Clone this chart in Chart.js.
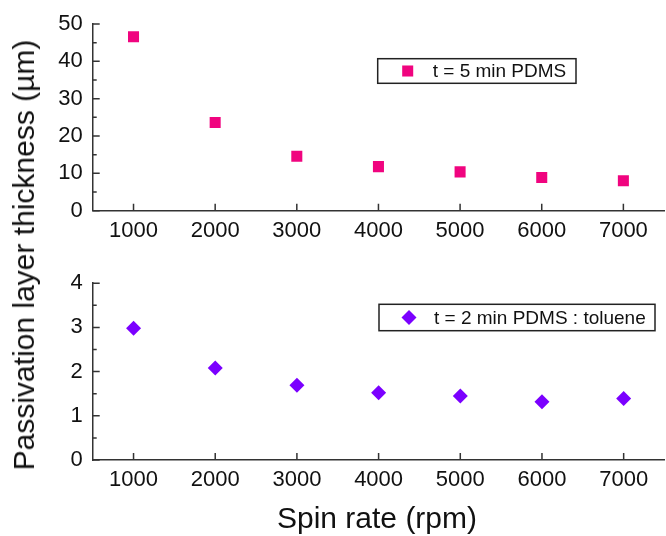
<!DOCTYPE html>
<html>
<head>
<meta charset="utf-8">
<script src="https://cdn.jsdelivr.net/npm/chart.js@4.4.1/dist/chart.umd.min.js"></script>
<style>
  body { margin: 0; width: 666px; height: 536px; overflow: hidden; background: #fff; position: relative; font-family: 'Liberation Sans', Arial, sans-serif; }
  canvas { position: absolute; left: 0; }
  .title { position: absolute; white-space: nowrap; color: #111; font-size: 30px; line-height: 1; }
</style>
</head>
<body>
<canvas id="top" width="672" height="260" style="top:0"></canvas>
<canvas id="bottom" width="672" height="276" style="top:260px"></canvas>
<div class="title" style="left:24px;top:255px;transform:translate(-50%,-50%) rotate(-90deg)">Passivation layer thickness (µm)</div>
<div class="title" style="left:377px;top:518px;transform:translate(-50%,-50%)">Spin rate (rpm)</div>
<script>
const spinRate      = [1000, 2000, 3000, 4000, 5000, 6000, 7000];
const thickness5min = [46.6, 23.6, 14.6, 11.8, 10.4, 8.9, 8.0];
const thickness2min = [2.98, 2.08, 1.69, 1.52, 1.45, 1.32, 1.39];
const xTickValues   = [1000, 2000, 3000, 4000, 5000, 6000, 7000];
const yTicksTop     = [0, 10, 20, 30, 40, 50];
const yTicksBottom  = [0, 1, 2, 3, 4];
const labelTop      = 't = 5 min PDMS';
const labelBottom   = 't = 2 min PDMS : toluene';

const AXIS = '#333';
const FONT = "'Liberation Sans', Arial, sans-serif";

// ticks pointing into the plot, with a minor tick half way on y
const inwardTicks = {
  id: 'inwardTicks',
  afterDraw(chart) {
    const { ctx, chartArea: { left, bottom } } = chart;
    const x = chart.scales.x, y = chart.scales.y;
    ctx.save();
    ctx.strokeStyle = AXIS;
    ctx.lineWidth = 1.5;
    ctx.beginPath();
    x.ticks.forEach(t => {
      const px = x.getPixelForValue(t.value);
      ctx.moveTo(px, bottom); ctx.lineTo(px, bottom - 7);
    });
    y.ticks.forEach((t, i) => {
      const py = y.getPixelForValue(t.value);
      ctx.moveTo(left, py); ctx.lineTo(left + 7, py);
      if (i < y.ticks.length - 1) {
        const pm = y.getPixelForValue((t.value + y.ticks[i + 1].value) / 2);
        ctx.moveTo(left, pm); ctx.lineTo(left + 4, pm);
      }
    });
    ctx.stroke();
    ctx.restore();
  }
};

// boxed legend at a fixed spot
const boxLegend = {
  id: 'boxLegend',
  afterDraw(chart, args, opts) {
    const { ctx } = chart;
    const ds = chart.data.datasets[0];
    const { x, y, w, h } = opts;
    ctx.save();
    ctx.strokeStyle = '#222';
    ctx.lineWidth = 1.5;
    ctx.strokeRect(x, y, w, h);
    ctx.fillStyle = ds.backgroundColor;
    Chart.helpers.drawPoint(ctx, {
      pointStyle: ds.pointStyle, radius: ds.pointRadius, borderWidth: 0, rotation: 0
    }, x + 30, y + h / 2);
    ctx.fillStyle = '#111';
    ctx.font = '19px ' + FONT;
    ctx.textBaseline = 'middle';
    ctx.fillText(ds.label, x + 55, y + h / 2 + 1);
    ctx.restore();
  }
};

function panel(id, values, label, color, style, radius, yTicks, padTop, xHeight, legendBox) {
  return new Chart(document.getElementById(id), {
    type: 'scatter',
    data: {
      datasets: [{
        label,
        data: spinRate.map((s, i) => ({ x: s, y: values[i] })),
        backgroundColor: color,
        borderWidth: 0,
        pointStyle: style,
        pointRadius: radius,
        pointHoverRadius: radius,
      }],
    },
    options: {
      responsive: false,
      animation: false,
      layout: { padding: { top: padTop, right: 3, bottom: 0, left: 0 } },
      plugins: {
        legend: { display: false },
        tooltip: { enabled: false },
        boxLegend: legendBox,
      },
      scales: {
        x: {
          type: 'linear', min: 500, max: 7500,
          afterBuildTicks: s => { s.ticks = xTickValues.map(v => ({ value: v })); },
          afterFit: s => { s.height = xHeight; },
          grid: { drawOnChartArea: false, drawTicks: false },
          border: { display: true, color: AXIS, width: 1.5 },
          ticks: { padding: 7, color: '#111', font: { family: FONT, size: 22 }, callback: v => String(v) },
        },
        y: {
          min: yTicks[0], max: yTicks[yTicks.length - 1],
          afterBuildTicks: s => { s.ticks = yTicks.map(v => ({ value: v })); },
          afterFit: s => { s.width = 92.7; },
          grid: { drawOnChartArea: false, drawTicks: false },
          border: { display: true, color: AXIS, width: 1.5 },
          ticks: { padding: 10, color: '#111', font: { family: FONT, size: 22 }, callback: v => String(v) },
        },
      },
    },
    plugins: [inwardTicks, boxLegend],
  });
}

panel('top', thickness5min, labelTop, '#f0047f', 'rect', 7.8, yTicksTop, 24, 49.3,
  { x: 377.7, y: 58.7, w: 198.3, h: 24.6 });
panel('bottom', thickness2min, labelBottom, '#7b00ff', 'rectRot', 7.5, yTicksBottom, 13.3, 76,
  { x: 379, y: 44.3, w: 276, h: 26.4 });
</script>
</body>
</html>
